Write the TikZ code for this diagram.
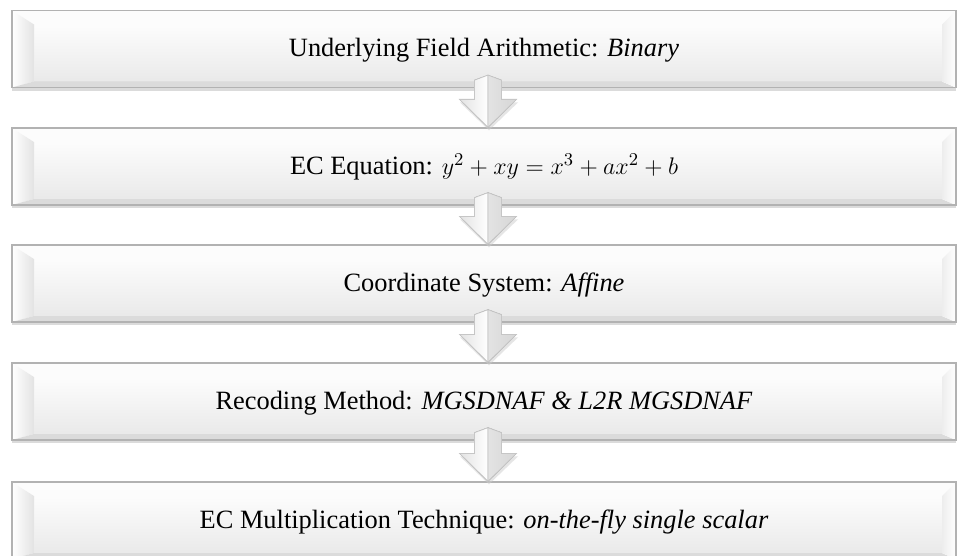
\documentclass[tikz,border=0pt]{standalone}
\usepackage{fontspec}
\setmainfont{Liberation Serif}
\usetikzlibrary{calc,shadows}

\begin{document}
\begin{tikzpicture}[x=0.5pt,y=-0.5pt,
  stepbox/.style={rectangle,draw=gray!60,line width=0.6pt,inner sep=0pt,
    minimum width=472pt,minimum height=38.5pt,fill=white,
    font=\fontsize{13.2}{15}\selectfont,text height=10pt,text depth=2pt,
    drop shadow={shadow xshift=0pt,shadow yshift=-1.6pt,opacity=0.35,fill=gray!80},
    path picture={
      \coordinate (nw) at (path picture bounding box.north west);
      \coordinate (ne) at (path picture bounding box.north east);
      \coordinate (sw) at (path picture bounding box.south west);
      \coordinate (se) at (path picture bounding box.south east);
      \coordinate (inw) at ([shift={(11pt,-7pt)}]nw);
      \coordinate (ine) at ([shift={(-7pt,-7pt)}]ne);
      \coordinate (isw) at ([shift={(11pt,3pt)}]sw);
      \coordinate (ise) at ([shift={(-7pt,3pt)}]se);
      \fill[top color=gray!2,bottom color=gray!17] (isw) rectangle (ine);
      \fill[gray!2] (nw) -- (ne) -- (ine) -- (inw) -- cycle;
      \fill[left color=white,right color=gray!22] (nw) -- (inw) -- (isw) -- (sw) -- cycle;
      \fill[gray!28] (sw) -- (isw) -- (ise) -- (se) -- cycle;
      \fill[left color=gray!14,right color=white] (ne) -- (ine) -- (ise) -- (se) -- cycle;
    }},
  arrowleft/.style={draw=gray!45,line width=0.4pt,left color=gray!22,right color=white},
  arrowright/.style={draw=gray!45,line width=0.4pt,left color=gray!22,right color=gray!32}]
\clip (0,0) rectangle (957,556);
\fill[white] (0,0) rectangle (957,556);

% flow of design choices
\node[stepbox] (b1) at (484,49) {Underlying Field Arithmetic: \textit{Binary}};
\node[stepbox] (b2) at (484,166.5) {EC Equation: $y^2 + xy = x^3 + ax^2 + b$};
\node[stepbox] (b3) at (484,283.5) {Coordinate System: \textit{Affine}};
\node[stepbox] (b4) at (484,401.5) {Recoding Method: \textit{MGSDNAF \& L2R MGSDNAF}};
\node[stepbox] (b5) at (484,520.5) {EC Multiplication Technique: \textit{on-the-fly single scalar}};

\foreach \a/\b in {b1/b2,b2/b3,b3/b4,b4/b5} {
  \coordinate (tip) at ($(\b.north)+(4,0)$);
  \coordinate (top) at ($(\a.south)+(4,-13)$);
  \fill[gray!40,opacity=0.5] ($(tip)+(1,3)$) -- ++(-29,-28) -- ++(58,0) -- cycle;
  \filldraw[arrowleft] (tip) -- ++(-28.5,-28) -- ++(15,0) -- ($(top)+(-13.5,5)$) -- (top) -- cycle;
  \filldraw[arrowright] (tip) -- ++(28.5,-28) -- ++(-15,0) -- ($(top)+(13.5,5)$) -- (top) -- cycle;
}
\end{tikzpicture}
\end{document}
